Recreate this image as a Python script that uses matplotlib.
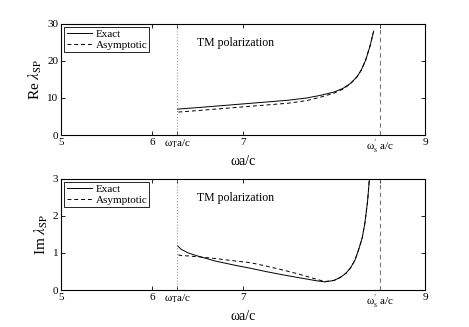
import numpy as np
from matplotlib import pyplot as plt

plt.rcParams['font.family'] = ['Liberation Serif', 'DejaVu Serif']
plt.rcParams['mathtext.fontset'] = 'stix'

# characteristic frequencies (omega a/c)
w_T = 6.28
w_s = 8.505

# Re lambda_SP
re_x_exact = [6.28, 6.5, 6.75, 7.0, 7.25, 7.5, 7.7, 7.85, 8.0, 8.1, 8.18, 8.25, 8.3, 8.35, 8.4, 8.43]
re_y_exact = [7.0, 7.4, 7.9, 8.4, 8.9, 9.4, 10.0, 10.7, 11.6, 12.6, 13.9, 15.6, 17.5, 20.3, 24.3, 27.5]
re_x_asym = [6.29, 6.5, 6.75, 7.0, 7.25, 7.5, 7.7, 7.85, 8.0, 8.1, 8.18, 8.25, 8.3, 8.35, 8.4, 8.44]
re_y_asym = [6.2, 6.6, 7.1, 7.6, 8.1, 8.6, 9.3, 10.2, 11.3, 12.4, 13.8, 15.6, 17.5, 20.3, 24.3, 28.3]

# Im lambda_SP
im_x_exact = [6.28, 6.32, 6.4, 6.5, 6.7, 6.93, 7.08, 7.25, 7.44, 7.6, 7.81, 7.9, 8.0, 8.07,
              8.13, 8.18, 8.23, 8.27, 8.31, 8.34, 8.37, 8.39]
im_y_exact = [1.2, 1.1, 1.0, 0.92, 0.78, 0.66, 0.59, 0.50, 0.41, 0.34, 0.25, 0.22, 0.26, 0.34,
              0.45, 0.59, 0.8, 1.08, 1.4, 1.8, 2.4, 3.0]
im_x_asym = [6.29, 6.32, 6.4, 6.5, 6.7, 6.93, 7.08, 7.25, 7.44, 7.6, 7.81, 7.9, 8.0, 8.07,
             8.13, 8.18, 8.23, 8.27, 8.31, 8.34, 8.37, 8.39]
im_y_asym = [0.95, 0.93, 0.92, 0.90, 0.85, 0.78, 0.74, 0.65, 0.54, 0.44, 0.29, 0.23, 0.26, 0.34,
             0.45, 0.59, 0.8, 1.08, 1.4, 1.8, 2.4, 3.0]

xticks = [5, 6, w_T, 7, w_s, 9]
xticklabels = ['5', '6', r'ω$_{\rm T}$a/c', '7', r'ω$^{\prime}_{\rm s}$ a/c', '9']

fig = plt.figure(figsize=(4.69, 3.27), dpi=100)

panels = [
    ([0.130, 0.587, 0.776, 0.340], re_x_exact, re_y_exact, re_x_asym, re_y_asym,
     30, [0, 10, 20, 30], r'Re $\lambda_{\rm SP}$'),
    ([0.130, 0.113, 0.776, 0.340], im_x_exact, im_y_exact, im_x_asym, im_y_asym,
     3, [0, 1, 2, 3], r'Im $\lambda_{\rm SP}$'),
]

for rect, xe, ye, xa, ya, ymax, yticks, ylab in panels:
    ax = fig.add_axes(rect)
    ax.plot(xe, ye, '-', color='black', lw=0.7, label='Exact')
    ax.plot(xa, ya, '--', color='black', lw=0.7, dashes=(4, 3), label='Asymptotic')
    ax.axvline(w_T, color='#999999', ls=':', lw=0.8)
    ax.axvline(w_s, color='#777777', ls='--', lw=0.8, dashes=(4, 3))
    ax.set_xlim(5, 9)
    ax.set_ylim(0, ymax)
    ax.set_xticks(xticks)
    ax.set_xticklabels(xticklabels)
    ax.set_yticks(yticks)
    ax.tick_params(direction='in', top=True, right=True, length=3, width=0.6,
                   labelsize=8, pad=2)
    for s in ax.spines.values():
        s.set_linewidth(0.8)
    ax.set_ylabel(ylab, fontsize=11, labelpad=2)
    ax.set_xlabel('ωa/c', fontsize=10, labelpad=-1)
    ax.text(0.374, 0.83, 'TM polarization', transform=ax.transAxes, fontsize=8.5,
            va='center')
    leg = ax.legend(loc='upper left', fontsize=8, handlelength=2.3, fancybox=False,
                    borderpad=0.2, labelspacing=0.1, handletextpad=0.3,
                    borderaxespad=0.3, framealpha=1)
    leg.get_frame().set_edgecolor('black')
    leg.get_frame().set_linewidth(0.6)

plt.savefig('out.png', dpi=100)
